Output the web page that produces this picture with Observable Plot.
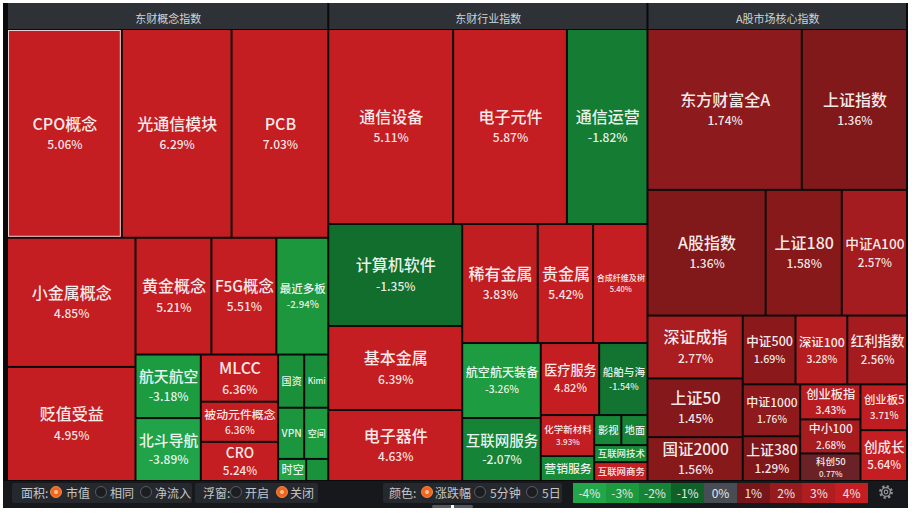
<!DOCTYPE html>
<html><head><meta charset="utf-8">
<script src="https://cdn.jsdelivr.net/npm/d3@7"></script>
<script src="https://cdn.jsdelivr.net/npm/@observablehq/plot@0.6"></script>
<style>
html,body{margin:0;padding:0;background:#fff;width:912px;height:519px;overflow:hidden;font-family:"Noto Sans CJK SC","Noto Sans",sans-serif;}
#frame{position:absolute;left:3px;top:3px;width:905px;height:505px;background:#0a0a0b;}
#band{position:absolute;left:3px;top:481px;width:905px;height:27px;background:#16181b;}
#chart{position:absolute;left:0;top:0;}
.pill{position:absolute;top:483px;height:20px;background:#25282d;border-radius:2px;}
.t{position:absolute;top:483px;line-height:20px;font-size:12px;color:#c4c6c9;white-space:nowrap;}
.r{position:absolute;top:486px;width:10px;height:10px;border-radius:50%;border:1px solid #5a5d64;background:#1b1d21;}
.r.on{background:radial-gradient(circle,#ffb784 0 26%,#ef651e 32% 100%);border-color:#f7894a;}
#legend{position:absolute;left:573px;top:483px;width:295px;height:20px;display:flex;}
#legend div{flex:1;text-align:center;line-height:20px;font-size:12px;color:#e6e6e6;}
#scroll{position:absolute;left:432px;top:505px;width:41px;height:3px;background:#55585e;border-radius:2px;}
#scroll i{position:absolute;left:19px;top:0;width:3px;height:3px;background:#fff;}
</style></head><body>
<div id="frame"></div>
<div id="band"></div>
<div id="chart"></div>
<div class="pill" style="left:12px;width:180px"></div>
<div class="pill" style="left:195px;width:123px"></div>
<div class="pill" style="left:383px;width:179px"></div>
<span class="t" style="left:21px">面积:</span>
<span class="r on" style="left:50px"></span><span class="t" style="left:66px">市值</span>
<span class="r" style="left:95px"></span><span class="t" style="left:110px">相同</span>
<span class="r" style="left:140px"></span><span class="t" style="left:155px">净流入</span>
<span class="t" style="left:203px">浮窗:</span>
<span class="r" style="left:230px"></span><span class="t" style="left:245px">开启</span>
<span class="r on" style="left:276px"></span><span class="t" style="left:290px">关闭</span>
<span class="t" style="left:389px">颜色:</span>
<span class="r on" style="left:421px"></span><span class="t" style="left:435px">涨跌幅</span>
<span class="r" style="left:474px"></span><span class="t" style="left:490px">5分钟</span>
<span class="r" style="left:526px"></span><span class="t" style="left:542px">5日</span>
<div id="legend"></div>
<svg style="position:absolute;left:878px;top:484px" width="16" height="16" viewBox="0 0 16 16">
  <circle cx="8" cy="8" r="5.6" fill="none" stroke="#8f9297" stroke-width="2.6" stroke-dasharray="2.2 2.2"/>
  <circle cx="8" cy="8" r="4.4" fill="none" stroke="#8f9297" stroke-width="1.4"/>
  <circle cx="8" cy="8" r="1.8" fill="none" stroke="#8f9297" stroke-width="1.2"/>
</svg>
<div id="scroll"><i></i></div>
<script>
// ---------- data ----------
const panelTitles = ["东财概念指数", "东财行业指数", "A股市场核心指数"];

const conceptNames  = ["CPO概念","光通信模块","PCB","小金属概念","贬值受益","黄金概念","F5G概念","最近多板","航天航空","北斗导航","MLCC","被动元件概念","CRO","国资","Kimi","VPN","空间","时空","卫星互联网"];
const conceptChange = [5.06,6.29,7.03,4.85,4.95,5.21,5.51,-2.94,-3.18,-3.89,6.36,6.36,5.24,-2.6,-2.5,-2.9,-3.2,-3.8,-2.7];
const conceptCap    = [23800,22750,20050,16480,14560,8800,7530,6020,4120,4080,3619,3080,3003,1378,1272,1326,1224,616,484];
const conceptStrips = [3,2,3,2,3,2,2,1,1];

const industryNames  = ["通信设备","电子元件","通信运营","计算机软件","基本金属","电子器件","稀有金属","贵金属","合成纤维及树","航空航天装备","互联网服务","医疗服务","船舶与海","化学新材料","营销服务","影视","地面","互联网技术","互联网商务"];
const industryChange = [5.11,5.87,-1.82,-1.35,6.39,4.63,3.83,5.42,5.40,-3.26,-2.07,4.82,-1.54,3.93,-2.4,-2.2,-2.0,-2.3,4.3];
const industryCap    = [24180,22035,15600,13566,11172,9443,8925,6545,6426,5850,4914,4176,3456,2173,1325,810,780,900,1000];
const industryStrips = [3,3,3,2,2,2,2,2];

const coreNames  = ["东方财富全A","上证指数","A股指数","上证180","中证A100","深证成指","上证50","国证2000","中证500","深证100","红利指数","中证1000","上证380","创业板指","中小100","科创50","创业板5","创成长"];
const coreChange = [1.74,1.36,1.36,1.58,2.57,2.77,1.45,1.56,1.69,3.28,2.56,1.76,1.29,3.43,2.68,0.77,3.71,5.64];
const coreCap    = [24650,16810,14750,9500,8140,5950,5550,4150,3604,3536,4080,2958,2552,2100,2040,1650,2115,2350];
const coreStrips = [2,3,3,3,2,3,1,1];

const legendStops  = [-4,-3,-2,-1,0,1,2,3,4];
const legendColors = ["#22a64a","#1c983f","#168336","#0e6228","#484c54","#761618","#951b1e","#b01d20","#c41e22"];
const highlighted = "CPO概念";

// ---------- layout ----------
const W = 912, H = 519, TW = 900, TH = 478, HEADER = 26;
const panelsData = [
  {title: panelTitles[0], names: conceptNames, change: conceptChange, cap: conceptCap, strips: conceptStrips},
  {title: panelTitles[1], names: industryNames, change: industryChange, cap: industryCap, strips: industryStrips},
  {title: panelTitles[2], names: coreNames, change: coreChange, cap: coreCap, strips: coreStrips}
];
const rootData = {children: panelsData.map(p => ({
  name: p.title, strips: p.strips,
  children: p.names.map((n, i) => ({name: n, change: p.change[i], value: p.cap[i]}))
}))};

function stripTile(node, x0, y0, x1, y1) {
  const kids = node.children;
  let total = node.value, i = 0;
  for (const n of node.data.strips) {
    const group = kids.slice(i, i + n); i += n;
    const sum = d3.sum(group, d => d.value);
    const row = {children: group, value: sum};
    const dx = x1 - x0, dy = y1 - y0;
    const k = i >= kids.length ? 1 : sum / total;
    if (dx < dy) { const yb = y0 + dy * k; d3.treemapDice(row, x0, y0, x1, yb); y0 = yb; }
    else { const xb = x0 + dx * k; d3.treemapSlice(row, x0, y0, xb, y1); x0 = xb; }
    total -= sum;
  }
}
const root = d3.treemap()
  .size([TW, TH])
  .paddingTop(d => d.depth === 1 ? HEADER : 0)
  .tile((node, x0, y0, x1, y1) => node.depth === 0 ? d3.treemapDice(node, x0, y0, x1, y1) : stripTile(node, x0, y0, x1, y1))
  (d3.hierarchy(rootData).sum(d => d.value || 0));

const panels = root.children.map(p => ({name: p.data.name, x0: p.x0, x1: p.x1, y0: p.y0, y1: p.y0 + HEADER, cx: (p.x0 + p.x1) / 2}));
const leaves = root.leaves().map(l => ({name: l.data.name, change: l.data.change, x0: l.x0, x1: l.x1, y0: l.y0, y1: l.y1}));

// ---------- label fitting ----------
const ctx = document.createElement("canvas").getContext("2d");
const FONT = '"Noto Sans CJK SC","Noto Sans",sans-serif';
function tw(s, f) { ctx.font = `500 ${f}px ${FONT}`; return ctx.measureText(s).width; }
const fmt = v => v.toFixed(2) + "%";
const names = [], pcts = [];
for (const d of leaves) {
  const w = d.x1 - d.x0 - 2, h = d.y1 - d.y0 - 2;
  const cx = (d.x0 + d.x1) / 2, cy = (d.y0 + d.y1) / 2;
  const u = tw(d.name, 1);
  const fw = Math.min(16, (w - 4) / u);
  let two = h / 2.7 >= Math.min(fw, 9);
  let f = two ? Math.min(fw, h / 2.7) : Math.min(fw, h - 4);
  let text = d.name;
  if (f < 8) {
    f = 8;
    while (text.length && tw(text, f) > w - 3) text = text.slice(0, -1);
    if (text.length < Math.min(3, d.name.length)) text = "";
  }
  if (!text || h < f + 2) continue;
  const p = Math.max(7.5, Math.min(12, f * 0.85));
  const pt = fmt(d.change);
  if (two && tw(pt, p) > w - 2) two = false;
  if (two) {
    const g = f * 0.42, B = f + g + p, top = cy - B / 2;
    names.push({x: cx, y: top + f / 2, text, fs: f});
    pcts.push({x: cx, y: top + f + g + p / 2, text: pt, fs: p});
  } else {
    names.push({x: cx, y: cy, text, fs: f});
  }
}

// ---------- plot ----------
const plot = Plot.plot({
  width: W, height: H, margin: 0,
  style: {background: "transparent", overflow: "visible"},
  x: {domain: [0, TW], range: [7, 7 + TW], axis: null},
  y: {domain: [0, TH], range: [3, 3 + TH], axis: null},
  color: {type: "linear", domain: legendStops, range: legendColors, clamp: true},
  marks: [
    Plot.rect(panels, {x1: "x0", x2: "x1", y1: "y0", y2: "y1", fill: "#2e3237", insetLeft: 1, insetRight: 1}),
    Plot.text(panels, {x: "cx", y: d => d.y0 + 16, text: "name", fill: "#cfd2d6", fontSize: 11, fontFamily: FONT}),
    Plot.rect(leaves, {x1: "x0", x2: "x1", y1: "y0", y2: "y1", fill: "change", inset: 1}),
    Plot.rect(leaves.filter(d => d.name === highlighted), {x1: "x0", x2: "x1", y1: "y0", y2: "y1", fill: "none", stroke: "#e9cfcf", strokeWidth: 1, inset: 1.5}),
    Plot.text(names, {x: "x", y: "y", text: "text", fontSize: "fs", fill: "#ffffff", fillOpacity: 0.92, fontFamily: FONT, fontWeight: 500}),
    Plot.text(pcts, {x: "x", y: "y", text: "text", fontSize: "fs", fill: "#ffffff", fillOpacity: 0.9, fontFamily: FONT, fontWeight: 500})
  ]
});
document.getElementById("chart").appendChild(plot);

// legend from the plot's own color scale
const cs = plot.scale("color");
const colorOf = cs && cs.apply ? v => cs.apply(v) : d3.scaleLinear(legendStops, legendColors);
const lg = document.getElementById("legend");
for (const v of legendStops) {
  const c = document.createElement("div");
  c.style.background = colorOf(v);
  c.textContent = v + "%";
  lg.appendChild(c);
}
</script></body></html>
